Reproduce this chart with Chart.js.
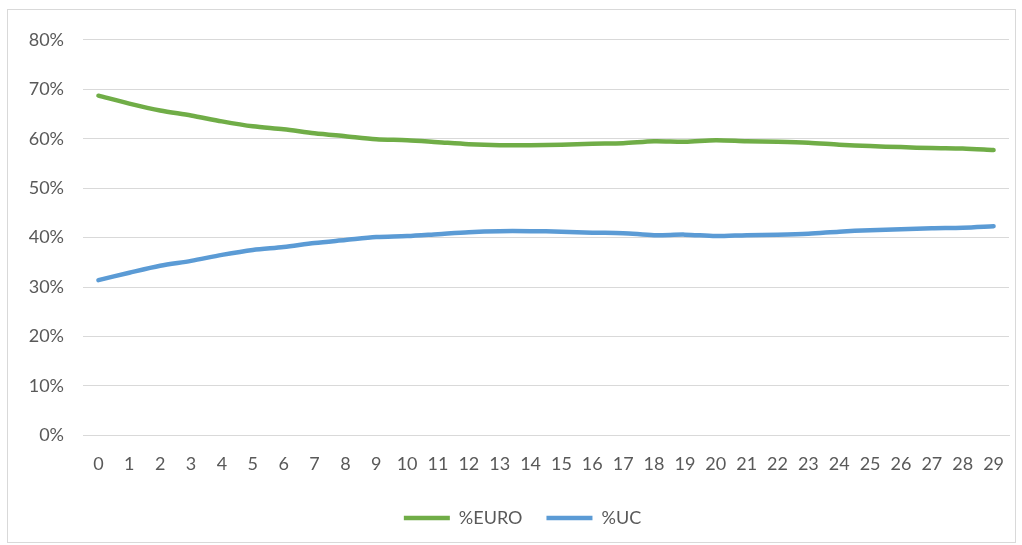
<!DOCTYPE html>
<html>
<head>
<meta charset="utf-8">
<script src="https://cdn.jsdelivr.net/npm/chart.js@4"></script>
<style>
    body { margin: 0; background: #fff; }
    #box {
        position: absolute;
        left: 7px; top: 9px;
        width: 1007px; height: 532px;
        border: 1px solid #d9d9d9;
    }
</style>
</head>
<body>
<div id="box"><canvas id="grafico"></canvas></div>
<script>
// anni 0..29
var anni = [];
for (var i = 0; i < 30; i++) { anni.push(String(i)); }

var euro = [68.7, 67.1, 65.7, 64.7, 63.5, 62.5, 61.9, 61.1, 60.5, 59.9,
            59.7, 59.3, 58.9, 58.7, 58.7, 58.8, 59.0, 59.1, 59.5, 59.4,
            59.7, 59.5, 59.4, 59.2, 58.8, 58.5, 58.3, 58.1, 58.0, 57.7];
var uc = [31.4, 32.9, 34.3, 35.3, 36.5, 37.5, 38.1, 38.9, 39.5, 40.1,
          40.3, 40.7, 41.1, 41.3, 41.3, 41.2, 41.0, 40.9, 40.5, 40.6,
          40.3, 40.5, 40.6, 40.8, 41.2, 41.5, 41.7, 41.9, 42.0, 42.3];

var etichette = ['%EURO', '%UC'];
var colori = ['#70ad47', '#5b9bd5'];

Chart.defaults.font.family = 'Lato, "Open Sans", sans-serif';
Chart.defaults.font.size = 18;
Chart.defaults.color = '#595959';

// sposta la legenda un po' a destra, come in Excel
var spostaLegenda = {
    id: 'spostaLegenda',
    afterLayout: function (chart) {
        chart.legend.left += 14;
        chart.legend.right += 14;
    }
};

var ctx = document.getElementById('grafico');
var chart = new Chart(ctx, {
    type: 'line',
    data: {
        labels: anni,
        datasets: [{
            label: etichette[0],
            data: euro,
            borderColor: colori[0],
            backgroundColor: colori[0],
            borderWidth: 4.5,
            borderCapStyle: 'round',
            pointRadius: 0,
            tension: 0.3
        }, {
            label: etichette[1],
            data: uc,
            borderColor: colori[1],
            backgroundColor: colori[1],
            borderWidth: 4.5,
            borderCapStyle: 'round',
            pointRadius: 0,
            tension: 0.3
        }]
    },
    options: {
        responsive: true,
        maintainAspectRatio: false,
        animation: false,
        layout: { padding: { left: 0, right: 6, top: 19, bottom: 5 } },
        scales: {
            x: {
                offset: true,
                grid: { display: false },
                border: { color: '#d9d9d9', width: 1 },
                ticks: { padding: 10, maxRotation: 0, autoSkip: false }
            },
            y: {
                min: 0,
                max: 80,
                afterFit: function (scale) { scale.width = 75; },
                ticks: {
                    stepSize: 10,
                    padding: 19,
                    callback: function (v) { return v + '%'; }
                },
                grid: { color: '#d9d9d9', lineWidth: 1, drawTicks: false },
                border: { display: false }
            }
        },
        plugins: {
            tooltip: { enabled: false },
            legend: {
                position: 'bottom',
                labels: {
                    usePointStyle: true,
                    pointStyle: 'line',
                    pointStyleWidth: 46,
                    padding: 24,
                    font: { size: 18 }
                }
            }
        }
    },
    plugins: [spostaLegenda]
});
</script>
</body>
</html>
